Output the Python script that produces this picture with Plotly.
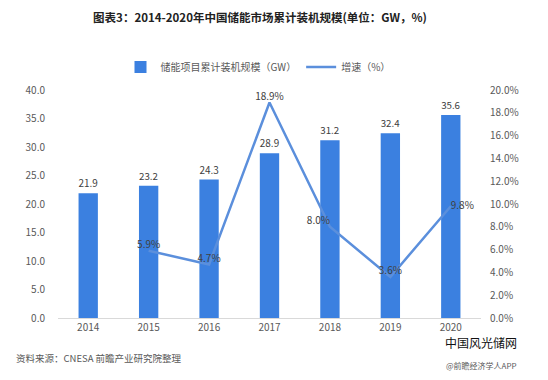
import plotly.graph_objects as go

years = ["2014", "2015", "2016", "2017", "2018", "2019", "2020"]
capacity = [21.9, 23.2, 24.3, 28.9, 31.2, 32.4, 35.6]
growth = [None, 5.9, 4.7, 18.9, 8.0, 3.6, 9.8]
growth_pos = ["top center", "top center", "top center", "top center", "top left", "top center", "middle right"]
left_ticks = [0, 5, 10, 15, 20, 25, 30, 35, 40]
right_ticks = [0, 2, 4, 6, 8, 10, 12, 14, 16, 18, 20]

FONT = "Noto Sans CJK SC"
BAR_C = "#3B80E0"
LINE_C = "#5B8FDC"
GREY = "#595959"

W, H = 540, 372
L, R, T, B = 50, 67, 82, 62
PW, PH = W - L - R, H - T - B

fig = go.Figure()
fig.add_trace(go.Bar(
    x=years, y=capacity, name="储能项目累计装机规模（GW）",
    marker=dict(color=BAR_C, line=dict(width=0)),
    width=0.32,
    text=[f"{v:.1f}" for v in capacity], textposition="outside",
    textfont=dict(size=10, color="#404040", family=FONT),
    cliponaxis=False,
))
fig.add_trace(go.Scatter(
    x=years, y=growth, name="增速（%）", yaxis="y2",
    mode="lines+text", line=dict(color=LINE_C, width=2.5),
    text=[("" if v is None else f"{v:.1f}%") for v in growth],
    textposition=growth_pos,
    textfont=dict(size=10, color="#404040", family=FONT),
    cliponaxis=False,
))

fig.update_layout(
    width=W, height=H,
    paper_bgcolor="white", plot_bgcolor="white",
    margin=dict(l=L, r=R, t=T, b=B, autoexpand=False),
    font=dict(family=FONT, color=GREY, size=10),
    title=dict(text="<b>图表3：2014-2020年中国储能市场累计装机规模(单位：GW，%)</b>",
               x=252/W, xanchor="center", y=1 - 10/H, yanchor="middle",
               font=dict(size=11.5, color="#222222", family=FONT)),
    showlegend=True,
    legend=dict(orientation="h", x=(250-L)/PW, xanchor="center", y=1 - 59/H, yref="container",
                yanchor="middle", font=dict(size=10, color=GREY, family=FONT),
                itemwidth=30, bgcolor="rgba(0,0,0,0)"),
    xaxis=dict(showgrid=False, showline=True, linecolor="#d9d9d9", linewidth=1,
               ticks="", tickfont=dict(size=10, color=GREY), automargin=False),
    yaxis=dict(range=[0, 40], tickvals=left_ticks,
               ticktext=[f"{v:.1f}" for v in left_ticks],
               showgrid=False, zeroline=False, showline=False, automargin=False,
               tickfont=dict(size=10, color=GREY), ticklabelstandoff=12),
    yaxis2=dict(range=[0, 20], tickvals=right_ticks,
                ticktext=[f"{v:.1f}%" for v in right_ticks],
                overlaying="y", side="right", showgrid=False, zeroline=False,
                showline=False, automargin=False,
                tickfont=dict(size=10, color=GREY), ticklabelstandoff=8),
    bargap=0.68,
)

fig.add_annotation(text="资料来源：CNESA 前瞻产业研究院整理", xref="paper", yref="paper",
                   x=(6-L)/PW, xanchor="left", y=-(350-(H-B))/PH, yanchor="middle",
                   showarrow=False, font=dict(size=9.5, color=GREY, family=FONT))
fig.add_annotation(text="中国风光储网", xref="paper", yref="paper",
                   x=(511-L)/PW, xanchor="right", y=-(334-(H-B))/PH, yanchor="middle",
                   showarrow=False, font=dict(size=12, color="#111111", family=FONT))
fig.add_annotation(text="@前瞻经济学人APP", xref="paper", yref="paper",
                   x=(511-L)/PW, xanchor="right", y=-(357-(H-B))/PH, yanchor="middle",
                   showarrow=False, font=dict(size=8, color=GREY, family=FONT))

fig.write_html("out.html")
